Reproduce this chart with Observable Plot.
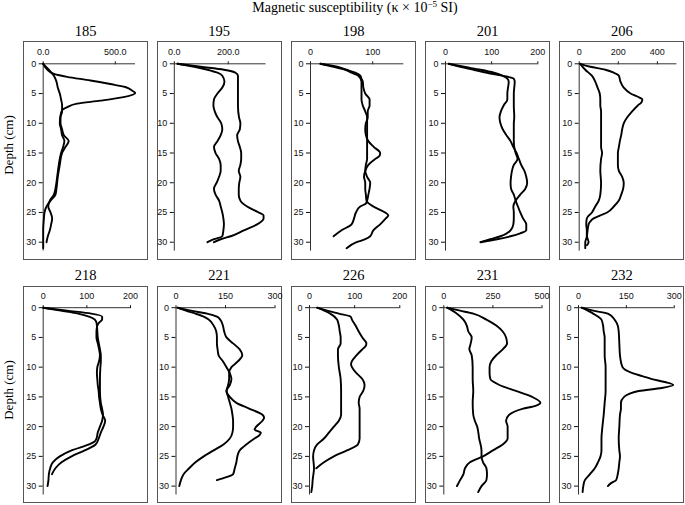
<!DOCTYPE html>
<html><head><meta charset="utf-8">
<script src="https://cdn.jsdelivr.net/npm/d3@7"></script>
<script src="https://cdn.jsdelivr.net/npm/@observablehq/plot@0.6"></script>
<style>
body{margin:0;background:#fff;}
#chart{position:relative;width:685px;height:505px;overflow:hidden;font-family:"Liberation Serif","Times New Roman",serif;color:#000}
.t{position:absolute;white-space:nowrap;transform:translateX(-50%);line-height:16px;}
.box{position:absolute;border:1px solid #555;box-sizing:border-box;}
.ylab{position:absolute;white-space:nowrap;font-size:13px;line-height:13px;transform:translate(-50%,-50%) rotate(-90deg);}
#chart svg{position:absolute;overflow:visible;}
</style></head><body><div id="chart"></div>
<script>
// ---- data: [depth (cm), susceptibility] ----
const cores = ["185","195","198","201","206","218","221","226","231","232"];
const xMax = [640, 340, 150, 200, 500, 200, 300, 200, 500, 300];
const xTicks = [[0,500],[0,200],[0,100],[0,100,200],[0,200,400],[0,100,200],[0,150,300],[0,100,200],[0,250,500],[0,150,300]];
const xTickDecimals = [1,1,0,0,0,0,0,0,0,0];
const depthTicks = [0,5,10,15,20,25,30];
const depthMax = 31.5;

const c185a = [[0,0],[1,30],[1.7,75],[2.2,166],[2.8,327],[3.4,465],[3.9,569],[4.5,615],[4.9,638],[5.6,557],[6.2,396],[6.7,235],[7.3,166],[7.8,131],[8.7,120],[10,115],[11,124],[12,131],[13,147],[14,138],[15,124],[17,108],[19,97],[21,85],[22,74],[23,46],[24,35],[25,51],[26,62],[27,55],[28,46],[29,32],[30,23]];
const c185b = [[0,0],[1,39],[2,74],[3,92],[4,101],[5,115],[6,124],[7,131],[8,131],[9,120],[10,120],[11,131],[12,143],[13,177],[14,154],[15,131],[17,115],[19,101],[21,92],[22,85],[23,51],[24,23],[25,9],[26,5],[28,0],[31,0]];
const c195a = [[0,12],[0.5,98],[1,184],[1.5,227],[2,236],[3,236],[5,236],[7,236],[9,240],[10,245],[11,243],[12,233],[13,236],[14,243],[15,248],[16,248],[17,245],[18,239],[19,245],[20,241],[21,239],[22,239],[23,245],[24,270],[25,313],[25.5,331],[26,331],[27,307],[28,258],[29,209],[29.5,172],[30,147]];
const c195b = [[0,12],[0.5,74],[1,123],[1.5,160],[2,178],[3,186],[4,178],[5,160],[6,147],[7,145],[8,150],[9,160],[10,174],[11,178],[12,172],[13,160],[14,147],[15,153],[16,166],[17,172],[18,172],[19,166],[20,157],[21,147],[22,153],[23,166],[24,172],[25,178],[26,182],[27,184],[28,182],[29,178],[29.5,147],[30,123]];
const c198a = [[0,16],[0.5,43],[1,58],[1.5,72],[2,80],[2.5,82],[3,84],[4,85],[5,88],[6,95],[7,95],[8,92],[9,92],[10,89],[11,88],[12,89],[13,93],[14,102],[15,112],[15.5,111],[16,104],[17,93],[18,88],[19,86],[20,88],[21,88],[22,89],[23,90],[24,101],[25,120],[25.5,125],[26,121],[27,112],[28,101],[29,96],[29.5,88],[30,74],[31,58]];
const c198b = [[0,16],[0.5,37],[1,56],[1.5,66],[2,77],[3,82],[4,82],[5,82],[6,82],[7,84],[8,88],[9,91],[10,91],[11,91],[12,91],[13,91],[14,91],[15,91],[16,91],[17,89],[18,88],[19,91],[20,96],[21,95],[22,93],[23,91],[23.5,89],[24,80],[25,73],[26,70],[27,66],[28,50],[29,37]];
const c201a = [[0,7],[0.5,32],[1,61],[1.5,90],[2,123],[2.3,141],[2.5,148],[3,150],[5,148],[7,148],[9,149],[10,148],[12,148],[13,148],[14,149],[15,152],[16,156],[17,148],[18,144],[19,142],[20,141],[21,142],[22,148],[23,152],[24,157],[25,162],[26,168],[27,175],[28,175],[28.5,162],[29,141],[29.5,112],[30,76]];
const c201b = [[0,7],[0.5,40],[1,76],[1.5,105],[2,123],[2.5,134],[3,137],[5,134],[6,134],[7,126],[8,120],[9,117],[10,119],[11,124],[12,132],[13,141],[14,147],[15,154],[16,159],[17,164],[18,171],[19,175],[20,177],[21,173],[22,162],[23,152],[24,147],[25,148],[26,148],[27,147],[28,141],[29,119],[29.5,97],[30,76]];
const c206a = [[0,5],[0.5,57],[1,134],[1.5,177],[2,203],[3,211],[4,228],[5,263],[5.5,297],[6,323],[6.5,318],[7,300],[8,271],[9,246],[10,228],[11,220],[12,215],[13,208],[14,203],[15,198],[16,198],[17,198],[18,203],[19,220],[20,228],[21,225],[22,215],[23,203],[24,177],[25,143],[25.5,108],[26,74],[26.5,57],[27,48],[28,43],[29,40],[30,48],[30.5,40]];
const c206b = [[0,5],[1,31],[2,65],[3,82],[4,94],[5,105],[6,108],[7,108],[8,112],[10,112],[12,112],[14,112],[15,117],[16,112],[18,108],[20,112],[22,108],[23,100],[24,82],[25,65],[26,39],[27,36],[28,39],[29,39],[30,31],[31,31]];
const c218a = [[0,0],[0.5,55],[1,110],[1.5,135],[2,135],[2.5,128],[3,124],[4,122],[5,122],[6,125],[7,128],[8,130],[9,128],[10,124],[11,123],[12,124],[13,125],[14,127],[15,128],[16,130],[17,132],[18,136],[19,142],[20,138],[21,132],[22,127],[23,120],[24,95],[25,65],[26,42],[27,28],[28,20]];
const c218b = [[0,0],[0.5,40],[1,80],[1.5,105],[2,118],[2.5,122],[3,123],[5,125],[7,130],[8,132],[9,132],[10,131],[12,130],[14,130],[16,132],[17,135],[18,137],[19,135],[20,130],[21,125],[22,122],[22.5,118],[23,105],[24,65],[25,38],[26,22],[27,16],[28,13],[29,12],[30,10]];
const c221a = [[0,5],[0.5,45],[1,94],[1.5,124],[2,134],[3,142],[4,146],[5,153],[6,173],[7,193],[8,201],[9,188],[10,168],[11,161],[12,161],[13,158],[14,153],[15,163],[16,183],[17,223],[18,262],[18.5,267],[19,262],[20,243],[20.5,238],[21,257],[21.5,252],[22,238],[23,213],[24,193],[25,186],[26,183],[27,178],[28,173],[28.5,153],[29,124]];
const c221b = [[0,5],[0.5,30],[1,59],[1.5,84],[2,99],[3,114],[4,122],[5,124],[6,124],[7,126],[8,129],[9,142],[10,153],[11,163],[12,168],[13,163],[14,153],[15,158],[16,163],[17,168],[18,171],[19,173],[20,173],[21,171],[22,163],[23,144],[24,114],[25,84],[26,59],[27,40],[28,23],[29,15],[30,10]];
const c226a = [[0,17],[0.5,39],[1,65],[1.5,91],[2,94],[3,102],[4,109],[5,117],[6,126],[6.5,124],[7,117],[8,104],[9,94],[9.5,92],[10,94],[11,104],[12,117],[13,122],[14,119],[15,111],[16,109],[17,111],[18,111],[20,111],[22,111],[23,107],[24,83],[25,54],[26,32],[27,15]];
const c226b = [[0,17],[1,46],[2,61],[3,65],[4,67],[5,69],[6,69],[7,63],[8,63],[10,65],[12,69],[14,70],[16,70],[18,70],[19,65],[20,54],[21,43],[22,32],[23,17],[24,10],[25,8],[27,10],[29,7],[30,6],[31,4]];
const c231a = [[0,17],[0.5,83],[1,150],[2,217],[3,267],[4,300],[5,317],[6,322],[7,300],[8,267],[9,242],[10,233],[11,233],[12,237],[13,283],[14,367],[15,450],[16,492],[16.5,467],[17,400],[18,333],[19,317],[20,325],[21,325],[22,325],[23,300],[24,250],[25,200],[26,133],[27,108],[28,100],[29,83],[30,67]];
const c231b = [[0,17],[1,67],[2,100],[3,117],[4,125],[5,142],[6,137],[7,130],[8,142],[10,147],[12,147],[14,150],[16,147],[18,150],[19,158],[20,170],[22,180],[24,192],[25,192],[26,200],[27,217],[28,220],[29,217],[30,192],[31,175]];
const c232a = [[0,10],[0.5,46],[1,92],[2,113],[3,123],[4,126],[6,128],[8,130],[10,138],[11,169],[11.5,200],[12,230],[12.5,271],[13,297],[13.5,261],[14,189],[14.5,159],[15,143],[16,133],[17,133],[18,130],[20,128],[22,126],[24,128],[25,130],[26,128],[27,126],[28,123],[29,118],[29.5,102],[30,92]];
const c232b = [[0,10],[1,46],[2,72],[3,77],[4,79],[5,82],[8,82],[10,85],[12,85],[14,85],[16,82],[18,79],[20,75],[22,72],[24,72],[25,69],[26,61],[27,51],[28,36],[29,20],[30,15],[31,13]];

const curves = [[c185a,c185b],[c195a,c195b],[c198a,c198b],[c201a,c201b],[c206a,c206b],
                [c218a,c218b],[c221a,c221b],[c226a,c226b],[c231a,c231b],[c232a,c232b]];

// ---- layout (pixels) ----
const boxLeft = [23, 156.5, 291, 425, 559.3];
const boxW = 125;
const rowTop = [41, 285.5], rowH = [219, 217.5], rowY0 = [63.3, 306.7], titleTop = [23, 267];
const pxPerCm = 5.947;
const plotX = [[42.7,135],[173.3,265],[310,403.3],[445,537.3],[579,676.7],
               [42.7,130],[175,274],[309,399.3],[443.3,541.5],[578.3,674]];

const chart = document.getElementById("chart");
function addDiv(cls, html, style) {
  const d = document.createElement("div");
  d.className = cls; d.innerHTML = html; Object.assign(d.style, style); chart.appendChild(d); return d;
}
addDiv("t", "Magnetic susceptibility (κ × 10<sup style='font-size:9px;vertical-align:5px;line-height:0'>−5</sup> SI)", {left: "355px", top: "0px", fontSize: "14px"});
addDiv("ylab", "Depth (cm)", {left: "7.5px", top: "145px"});
addDiv("ylab", "Depth (cm)", {left: "7.5px", top: "390px"});

cores.forEach((name, i) => {
  const row = Math.floor(i / 5), col = i % 5;
  const bl = boxLeft[col], top = rowTop[row], h = rowH[row];
  const [x0, x1] = plotX[i];
  const mt = rowY0[row] - top;
  const mb = h - mt - depthMax * pxPerCm;
  addDiv("t", name, {left: (bl + boxW / 2) + "px", top: titleTop[row] + "px", fontSize: "14.5px"});
  addDiv("box", "", {left: bl + "px", top: top + "px", width: boxW + "px", height: h + "px"});
  const dec = xTickDecimals[i];
  const svg = Plot.plot({
    width: boxW, height: h,
    marginLeft: x0 - bl, marginRight: bl + boxW - x1, marginTop: mt, marginBottom: mb,
    x: {domain: [0, xMax[i]]},
    y: {domain: [0, depthMax], reverse: true},
    style: {fontFamily: "'Liberation Sans', Arial, sans-serif", fontSize: "9px", background: "transparent", color: "#111"},
    marks: [
      Plot.axisX({anchor: "top", ticks: xTicks[i], tickFormat: d => d.toFixed(dec), tickSize: 3, tickPadding: 6, label: null, fontSize: 9}),
      Plot.axisY({anchor: "left", ticks: depthTicks, tickSize: 4, tickPadding: 3, label: null, fontSize: 9}),
      Plot.ruleY([0], {stroke: "#333"}),
      Plot.ruleX([0], {stroke: "#333"}),
      ...curves[i].map(c => Plot.line(c, {x: d => d[1], y: d => d[0], curve: "monotone-y", stroke: "#000", strokeWidth: 1.9}))
    ]
  });
  svg.style.left = bl + "px";
  svg.style.top = top + "px";
  chart.appendChild(svg);
});
</script></body></html>
